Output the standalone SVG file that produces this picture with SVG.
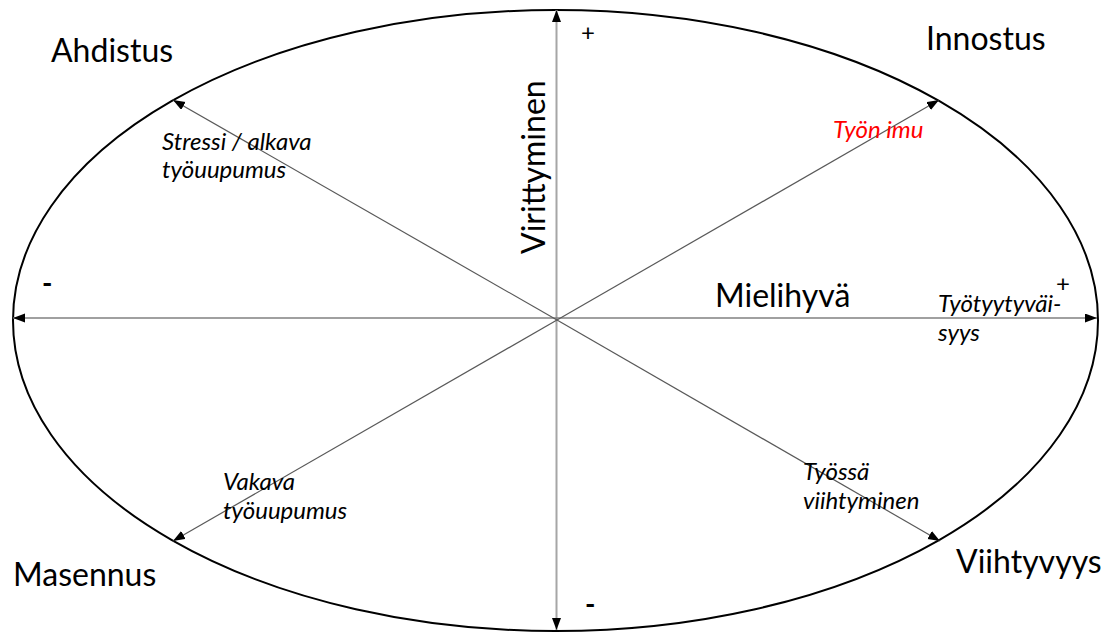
<svg xmlns="http://www.w3.org/2000/svg" width="1106" height="634" viewBox="0 0 1106 634">
  <style>
    .big { font-family: Lato, "Liberation Sans", sans-serif; font-size: 32px; fill: #000; }
    .lab { font-family: Lato, "Liberation Sans", sans-serif; font-size: 24px; font-style: italic; fill: #000; }
    .sign { font-family: Lato, "Liberation Sans", sans-serif; font-size: 24px; fill: #000; }
    .dash { font-family: Lato, "Liberation Sans", sans-serif; font-size: 28px; font-weight: bold; fill: #000; }
    .red { fill: #ff0000; }
  </style>
  <defs>
    <marker id="ah" markerUnits="userSpaceOnUse" markerWidth="13" markerHeight="10" refX="12" refY="4.5" orient="auto-start-reverse" viewBox="0 0 13 10">
      <path d="M0,0 L12,4.5 L0,9 z" fill="#000"/>
    </marker>
  </defs>
  <rect width="1106" height="634" fill="#fff"/>
  <g id="ellipse">
    <ellipse cx="555.5" cy="320.5" rx="542.5" ry="310.5" fill="none" stroke="#000" stroke-width="2"/>
  </g>
  <g id="connectors">
    <line x1="556.5" y1="630" x2="556.5" y2="10" stroke="#a6a6a6" stroke-width="2" marker-start="url(#ah)" marker-end="url(#ah)"/>
    <line x1="13" y1="318" x2="1097" y2="318" stroke="#808080" stroke-width="1.5" marker-start="url(#ah)" marker-end="url(#ah)"/>
    <line x1="557" y1="320" x2="173" y2="100" stroke="#595959" stroke-width="1.2" marker-end="url(#ah)"/>
    <line x1="557" y1="320" x2="939" y2="100" stroke="#595959" stroke-width="1.2" marker-end="url(#ah)"/>
    <line x1="557" y1="320" x2="173" y2="541" stroke="#595959" stroke-width="1.2" marker-end="url(#ah)"/>
    <line x1="557" y1="320" x2="940" y2="541" stroke="#595959" stroke-width="1.2" marker-end="url(#ah)"/>
  </g>
  <g id="ahdistus"><text class="big" x="51" y="62">Ahdistus</text></g>
  <g id="innostus"><text class="big" x="926" y="50">Innostus</text></g>
  <g id="masennus"><text class="big" x="13" y="586">Masennus</text></g>
  <g id="viihtyvyys"><text class="big" x="956" y="573">Viihtyvyys</text></g>
  <g id="mielihyva"><text class="big" x="715" y="307">Mielihyvä</text></g>
  <g id="virittyminen"><text class="big" transform="translate(545,254) rotate(-90)">Virittyminen</text></g>
  <g id="stressi">
    <text class="lab" x="162" y="150">Stressi / alkava</text>
    <text class="lab" x="162" y="178">työuupumus</text>
  </g>
  <g id="tyon-imu"><text class="lab red" x="833" y="138">Työn imu</text></g>
  <g id="tyotyytyvaisyys">
    <text class="lab" x="938" y="312">Työtyytyväi-</text>
    <text class="lab" x="938" y="341">syys</text>
  </g>
  <g id="vakava">
    <text class="lab" x="223" y="490">Vakava</text>
    <text class="lab" x="223" y="519">työuupumus</text>
  </g>
  <g id="tyossa">
    <text class="lab" x="803" y="480">Työssä</text>
    <text class="lab" x="803" y="509">viihtyminen</text>
  </g>
  <g id="signs">
    <text class="sign" x="581" y="41">+</text>
    <text class="sign" x="1056" y="292">+</text>
    <text class="dash" x="42" y="293">-</text>
    <text class="dash" x="585" y="614">-</text>
  </g>
</svg>
